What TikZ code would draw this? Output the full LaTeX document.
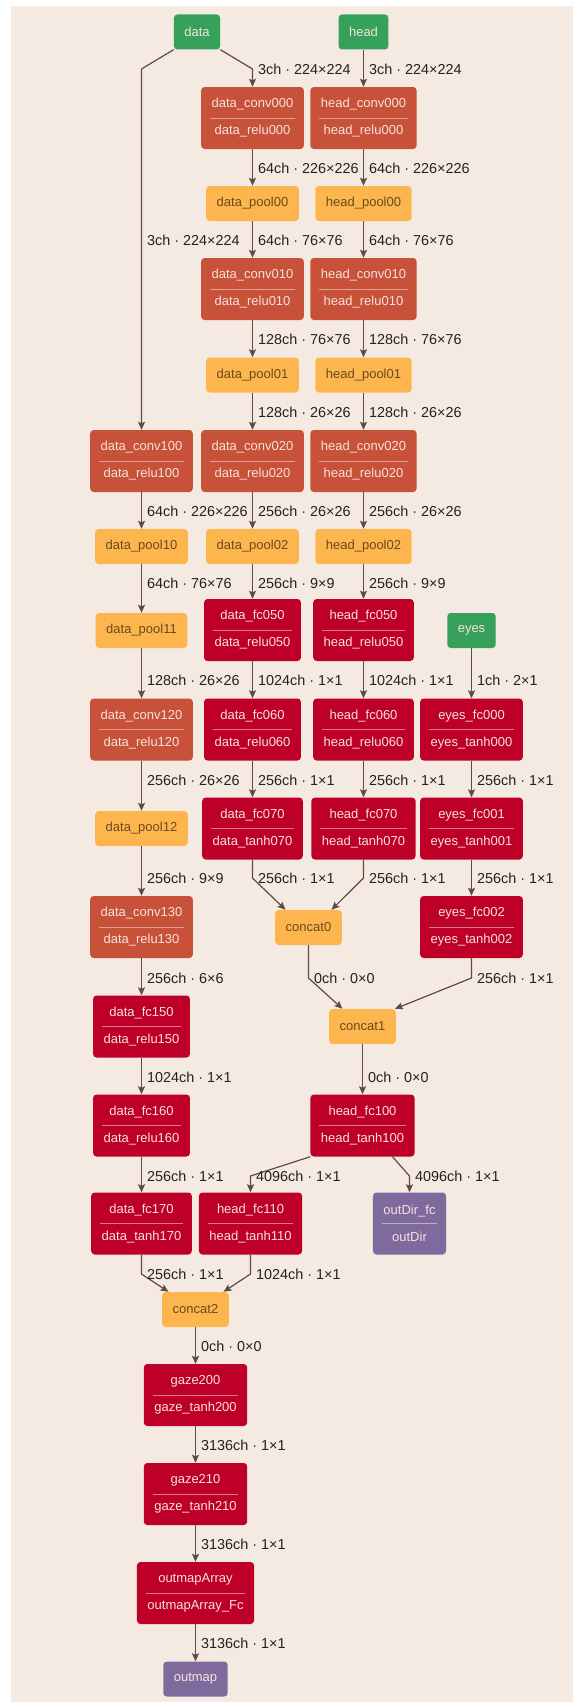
\documentclass[tikz,border=0pt]{standalone}
\usepackage{fontspec}
\newfontfamily\lsans{Liberation Sans}
\usetikzlibrary{arrows.meta,calc}
\definecolor{bgc}{HTML}{F5EAE1}
\definecolor{greenc}{HTML}{35A15A}
\definecolor{convc}{HTML}{C8513A}
\definecolor{poolc}{HTML}{FDB64E}
\definecolor{fcc}{HTML}{BE0028}
\definecolor{purplec}{HTML}{7F6A9D}
\definecolor{ltext}{HTML}{F6E2DD}
\definecolor{pooltext}{HTML}{6A4A1E}
\definecolor{edgec}{HTML}{5E4B43}
\definecolor{lblc}{HTML}{222222}
\tikzset{
  box/.style={rounded corners=3.5pt, inner xsep=10.5pt, inner ysep=0pt,
    font=\lsans\fontsize{13}{27}\selectfont, align=center, text=ltext},
  one/.style={box, minimum height=35pt},
  two/.style={box, minimum height=62pt,
    path picture={\draw[ltext, opacity=0.55, line width=0.8pt]
      ([xshift=9pt]path picture bounding box.west) --
      ([xshift=-9pt]path picture bounding box.east);}},
  inp/.style={one, fill=greenc},
  conv/.style={two, fill=convc},
  pool/.style={one, fill=poolc, text=pooltext},
  fc/.style={two, fill=fcc},
  outp/.style={one, fill=purplec},
  outpp/.style={two, fill=purplec},
  edge/.style={draw=edgec, line width=1.2pt, -{Stealth[length=8pt,width=7pt,inset=1.5pt]}},
  lbl/.style={anchor=west, font=\lsans\fontsize{14.4}{16}\selectfont, text=lblc,
    inner sep=0pt, xshift=5.5pt}
}
\begin{document}
\begin{tikzpicture}[x=1pt,y=-1pt]
\fill[white] (0,0) rectangle (573,1702);
\fill[bgc] (11,6) rectangle (573,1702);
\useasboundingbox (0,0) rectangle (573,1702);

% label rows
\coordinate (r1) at (0,69);
\coordinate (r2) at (0,168);
\coordinate (r3) at (0,240);
\coordinate (r4) at (0,339);
\coordinate (r5) at (0,412);
\coordinate (r6) at (0,511);
\coordinate (r7) at (0,583);
\coordinate (r8) at (0,680);
\coordinate (r9) at (0,780);
\coordinate (r10) at (0,878);
\coordinate (r11) at (0,978);
\coordinate (r12) at (0,1077);
\coordinate (r13) at (0,1176);
\coordinate (r14) at (0,1274);
\coordinate (r15) at (0,1346);
\coordinate (r16) at (0,1445);
\coordinate (r17) at (0,1544);
\coordinate (r18) at (0,1643);

% nodes
\node[inp] (data) at (197,32) {data};
\node[inp] (head) at (363.5,32) {head};
\node[conv] (dconv000) at (252.5,118) {data\_conv000\\data\_relu000};
\node[conv] (hconv000) at (363.5,118) {head\_conv000\\head\_relu000};
\node[pool] (dpool00) at (252.5,203.5) {data\_pool00};
\node[pool] (hpool00) at (363.5,203.5) {head\_pool00};
\node[conv] (dconv010) at (252.5,289) {data\_conv010\\data\_relu010};
\node[conv] (hconv010) at (363.5,289) {head\_conv010\\head\_relu010};
\node[pool] (dpool01) at (252.5,375) {data\_pool01};
\node[pool] (hpool01) at (363.5,375) {head\_pool01};
\node[conv] (dconv100) at (141.5,461) {data\_conv100\\data\_relu100};
\node[conv] (dconv020) at (252.5,461) {data\_conv020\\data\_relu020};
\node[conv] (hconv020) at (363.5,461) {head\_conv020\\head\_relu020};
\node[pool] (dpool10) at (141.5,546.5) {data\_pool10};
\node[pool] (dpool02) at (252.5,546.5) {data\_pool02};
\node[pool] (hpool02) at (363.5,546.5) {head\_pool02};
\node[pool] (dpool11) at (141.5,630.5) {data\_pool11};
\node[fc] (dfc050) at (252.5,630) {data\_fc050\\data\_relu050};
\node[fc] (hfc050) at (363.5,630) {head\_fc050\\head\_relu050};
\node[inp] (eyes) at (471.5,630.5) {eyes};
\node[conv] (dconv120) at (141.5,729.5) {data\_conv120\\data\_relu120};
\node[fc] (dfc060) at (252.5,729.5) {data\_fc060\\data\_relu060};
\node[fc] (hfc060) at (363.5,729.5) {head\_fc060\\head\_relu060};
\node[fc] (efc000) at (471.5,729.5) {eyes\_fc000\\eyes\_tanh000};
\node[pool] (dpool12) at (141.5,828.5) {data\_pool12};
\node[fc] (dfc070) at (252.5,828.5) {data\_fc070\\data\_tanh070};
\node[fc] (hfc070) at (363.5,828.5) {head\_fc070\\head\_tanh070};
\node[fc] (efc001) at (471.5,828.5) {eyes\_fc001\\eyes\_tanh001};
\node[conv] (dconv130) at (141.5,927) {data\_conv130\\data\_relu130};
\node[pool] (concat0) at (308.5,927.5) {concat0};
\node[fc] (efc002) at (471.5,927) {eyes\_fc002\\eyes\_tanh002};
\node[fc] (dfc150) at (141.5,1026.5) {data\_fc150\\data\_relu150};
\node[pool] (concat1) at (362.5,1026.5) {concat1};
\node[fc] (dfc160) at (141.5,1125.5) {data\_fc160\\data\_relu160};
\node[fc] (hfc100) at (362.5,1125.5) {head\_fc100\\head\_tanh100};
\node[fc] (dfc170) at (141.5,1223.5) {data\_fc170\\data\_tanh170};
\node[fc] (hfc110) at (250.5,1223.5) {head\_fc110\\head\_tanh110};
\node[outpp] (outdir) at (409.5,1223.5) {outDir\_fc\\outDir};
\node[pool] (concat2) at (195.5,1309.5) {concat2};
\node[fc] (gaze200) at (195.5,1395) {gaze200\\gaze\_tanh200};
\node[fc] (gaze210) at (195.5,1494) {gaze210\\gaze\_tanh210};
\node[fc] (outmaparr) at (195.5,1593) {outmapArray\\outmapArray\_Fc};
\node[outp] (outmap) at (195.5,1679) {outmap};

% bent edges
\draw[edge] (data.south east) -- (dconv000.north |- r1) -- (dconv000.north);
\node[lbl] at (dconv000.north |- r1) {3ch · 224×224};
\draw[edge] (data.south west) -- (dconv100.north |- r1) -- (dconv100.north);
\node[lbl] at (dconv100.north |- r3) {3ch · 224×224};
\draw[edge] (dfc070.south) -- (dfc070.south |- r10) -- ([xshift=-23pt]concat0.north);
\node[lbl] at (dfc070.south |- r10) {256ch · 1×1};
\draw[edge] (hfc070.south) -- (hfc070.south |- r10) -- ([xshift=23pt]concat0.north);
\node[lbl] at (hfc070.south |- r10) {256ch · 1×1};
\draw[edge] (concat0.south) -- (concat0.south |- r11) -- ([xshift=-20pt]concat1.north);
\node[lbl] at (concat0.south |- r11) {0ch · 0×0};
\draw[edge] (efc002.south) -- (efc002.south |- r11) -- ([xshift=-1pt]concat1.north east);
\node[lbl] at (efc002.south |- r11) {256ch · 1×1};
\draw[edge] (hfc100.south west) -- (hfc110.north |- r13) -- (hfc110.north);
\node[lbl] at (hfc110.north |- r13) {4096ch · 1×1};
\draw[edge] ([xshift=30pt]hfc100.south) -- (outdir.north |- r13) -- (outdir.north);
\node[lbl] at (outdir.north |- r13) {4096ch · 1×1};
\draw[edge] (dfc170.south) -- (dfc170.south |- r14) -- ([xshift=-27pt]concat2.north);
\node[lbl] at (dfc170.south |- r14) {256ch · 1×1};
\draw[edge] (hfc110.south) -- (hfc110.south |- r14) -- ([xshift=28pt]concat2.north);
\node[lbl] at (hfc110.south |- r14) {1024ch · 1×1};

% straight edges
\foreach \a/\b/\r/\t in {
  head/hconv000/r1/{3ch · 224×224},
  dconv000/dpool00/r2/{64ch · 226×226},
  hconv000/hpool00/r2/{64ch · 226×226},
  dpool00/dconv010/r3/{64ch · 76×76},
  hpool00/hconv010/r3/{64ch · 76×76},
  dconv010/dpool01/r4/{128ch · 76×76},
  hconv010/hpool01/r4/{128ch · 76×76},
  dpool01/dconv020/r5/{128ch · 26×26},
  hpool01/hconv020/r5/{128ch · 26×26},
  dconv100/dpool10/r6/{64ch · 226×226},
  dconv020/dpool02/r6/{256ch · 26×26},
  hconv020/hpool02/r6/{256ch · 26×26},
  dpool10/dpool11/r7/{64ch · 76×76},
  dpool02/dfc050/r7/{256ch · 9×9},
  hpool02/hfc050/r7/{256ch · 9×9},
  dpool11/dconv120/r8/{128ch · 26×26},
  dfc050/dfc060/r8/{1024ch · 1×1},
  hfc050/hfc060/r8/{1024ch · 1×1},
  eyes/efc000/r8/{1ch · 2×1},
  dconv120/dpool12/r9/{256ch · 26×26},
  dfc060/dfc070/r9/{256ch · 1×1},
  hfc060/hfc070/r9/{256ch · 1×1},
  efc000/efc001/r9/{256ch · 1×1},
  dpool12/dconv130/r10/{256ch · 9×9},
  efc001/efc002/r10/{256ch · 1×1},
  dconv130/dfc150/r11/{256ch · 6×6},
  dfc150/dfc160/r12/{1024ch · 1×1},
  concat1/hfc100/r12/{0ch · 0×0},
  dfc160/dfc170/r13/{256ch · 1×1},
  concat2/gaze200/r15/{0ch · 0×0},
  gaze200/gaze210/r16/{3136ch · 1×1},
  gaze210/outmaparr/r17/{3136ch · 1×1},
  outmaparr/outmap/r18/{3136ch · 1×1}} {
  \draw[edge] (\a.south) -- (\a.south |- \b.north);
  \node[lbl] at (\a.south |- \r) {\t};
}
\end{tikzpicture}
\end{document}
